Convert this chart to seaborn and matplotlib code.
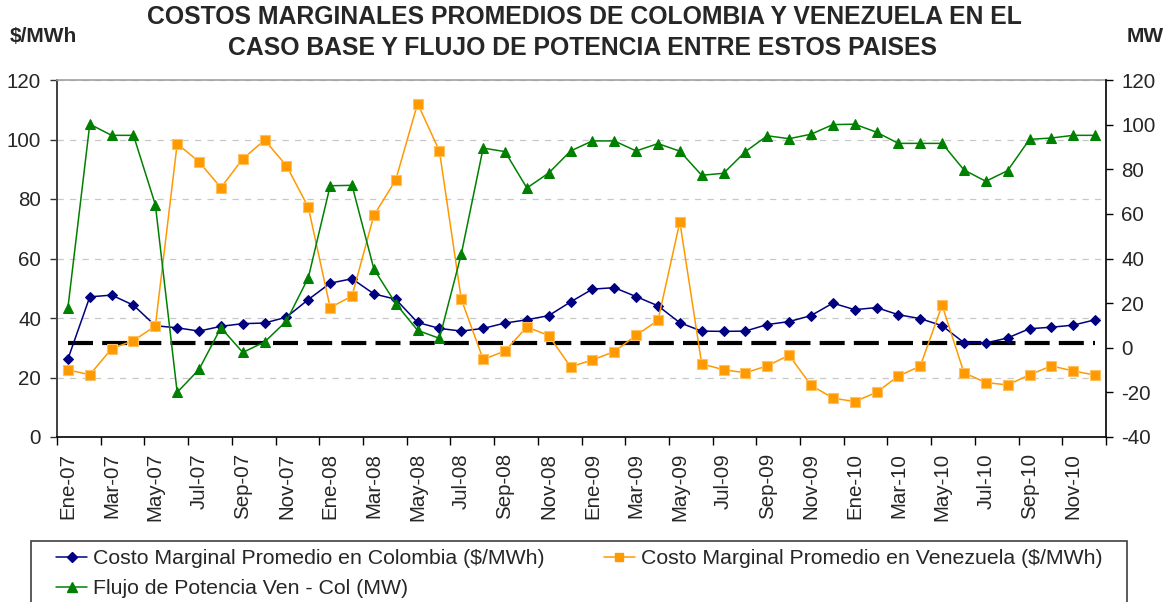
import matplotlib
matplotlib.use("Agg")
import matplotlib.pyplot as plt
import numpy as np
import pandas as pd
import seaborn as sns
from matplotlib.patches import Rectangle
from matplotlib.lines import Line2D

# ---- data -------------------------------------------------------------
meses_abrev = ["Ene", "Feb", "Mar", "Abr", "May", "Jun",
               "Jul", "Ago", "Sep", "Oct", "Nov", "Dic"]
anios = ["07", "08", "09", "10"]
meses = [f"{m}-{a}" for a in anios for m in meses_abrev]

# Costo marginal promedio en Colombia ($/MWh)
colombia = [26.2, 47.1, 47.7, 44.3, 37.4, 36.7, 35.6, 37.2, 38.1, 38.3, 40.3, 46.2,
            51.7, 53.2, 48.1, 46.3, 38.5, 36.5, 35.6, 36.5, 38.3, 39.4, 40.8, 45.4,
            49.7, 50.2, 47.2, 44.1, 38.4, 35.6, 35.5, 35.6, 37.8, 38.8, 40.8, 45.0,
            42.8, 43.5, 41.1, 39.8, 37.4, 31.7, 31.6, 33.3, 36.4, 36.9, 37.6, 39.4]

# Costo marginal promedio en Venezuela ($/MWh)
venezuela = [22.6, 20.9, 29.7, 32.4, 37.3, 98.6, 92.5, 83.8, 93.5, 99.8, 91.2, 77.2,
             43.5, 47.4, 74.5, 86.4, 112.1, 96.1, 46.3, 26.1, 28.9, 37.0, 34.1, 23.6,
             25.9, 28.7, 34.2, 39.2, 72.3, 24.6, 22.6, 21.6, 23.9, 27.5, 17.4, 13.1,
             11.9, 15.0, 20.5, 23.8, 44.3, 21.6, 18.3, 17.5, 20.9, 23.9, 22.2, 20.8]

# Flujo de potencia Venezuela -> Colombia (MW)
flujo = [18.0, 100.2, 95.2, 95.2, 64.1, -20.0, -9.7, 9.0, -2.1, 2.6, 12.0, 31.4,
         72.6, 72.8, 35.3, 19.8, 7.8, 4.2, 42.0, 89.5, 87.9, 71.6, 78.3, 88.2,
         92.7, 92.7, 88.2, 91.5, 88.1, 77.3, 78.2, 87.9, 95.0, 93.7, 95.7, 100.0,
         100.2, 96.6, 91.6, 91.6, 91.6, 79.7, 74.6, 79.4, 93.4, 94.0, 95.2, 95.2]

# Costo marginal de referencia del caso base ($/MWh)
referencia = 31.7

etiquetas = ["Costo Marginal Promedio en Colombia ($/MWh)",
             "Costo Marginal Promedio en Venezuela ($/MWh)",
             "Flujo de Potencia Ven - Col (MW)"]

df = pd.DataFrame({"mes": np.arange(len(meses)),
                   "colombia": colombia,
                   "venezuela": venezuela,
                   "flujo": flujo,
                   "referencia": [referencia] * len(meses)})

# ---- style ------------------------------------------------------------
sns.set_style("white")
plt.rcParams["font.family"] = ["Liberation Sans", "DejaVu Sans"]
plt.rcParams["axes.unicode_minus"] = False

W, H = 1171, 602
fig = plt.figure(figsize=(W / 100, H / 100), dpi=100)
fig.patch.set_facecolor("white")

x0, x1, yt, yb = 57, 1106, 80, 437
ax = fig.add_axes([x0 / W, (H - yb) / H, (x1 - x0) / W, (yb - yt) / H])
ax2 = ax.twinx()

c_col = "#000080"
c_ven = "#FF9900"
c_flu = "#008000"

sns.lineplot(data=df, x="mes", y="referencia", ax=ax, color="black",
             linewidth=3.0, linestyle=(0, (6, 2.2)), zorder=3)
sns.lineplot(data=df, x="mes", y="colombia", ax=ax, color=c_col, linewidth=1.1,
             marker="D", markersize=5.5, markeredgecolor=c_col, zorder=4)
sns.lineplot(data=df, x="mes", y="venezuela", ax=ax, color=c_ven, linewidth=1.1,
             marker="s", markersize=7, markeredgecolor="#FFC060",
             markeredgewidth=0.8, zorder=4)
sns.lineplot(data=df, x="mes", y="flujo", ax=ax2, color=c_flu, linewidth=1.1,
             marker="^", markersize=7.5, markeredgecolor=c_flu, zorder=4)

# axes ranges and ticks
ax.set_xlim(-0.5, len(meses) - 0.5)
ax.set_ylim(0, 120)
ax2.set_ylim(-40, 120)
ax.set_yticks(np.arange(0, 121, 20))
ax2.set_yticks(np.arange(-40, 121, 20))

ax.set_xticks(np.arange(-0.5, len(meses), 2))
ax.set_xticklabels([])
ax.set_xticks(np.arange(0, len(meses), 2), minor=True)
ax.set_xticklabels(meses[::2], minor=True, rotation=90)

ax.tick_params(axis="x", which="major", direction="out", length=6, width=1,
               color="black", bottom=True)
ax.tick_params(axis="x", which="minor", length=0, pad=11.5, labelsize=14.8,
               bottom=True)
ax.tick_params(axis="y", direction="out", length=5, width=1, color="#333333",
               labelsize=14.8, pad=6.5, left=True)
ax2.tick_params(axis="y", direction="out", length=5, width=1, color="black",
                labelsize=14.8, pad=6, right=True)

ax.set_xlabel("")
ax.set_ylabel("")
ax2.set_ylabel("")

# light dashed grid
ax.yaxis.grid(True, linestyle=(0, (5, 5)), color="#c8c8c8", linewidth=0.9)
ax.set_axisbelow(True)

ax.spines["left"].set_color("#404040")
ax.spines["left"].set_linewidth(1.4)
ax.spines["bottom"].set_color("black")
ax.spines["bottom"].set_linewidth(1.2)
ax.spines["top"].set_color("#a0a0a0")
ax.spines["top"].set_linewidth(1.2)
ax.spines["right"].set_visible(False)
for s in ["top", "left", "bottom"]:
    ax2.spines[s].set_visible(False)
ax2.spines["right"].set_color("black")
ax2.spines["right"].set_linewidth(1.2)

# titles and unit labels
fig.text(584 / W, 1 - 17 / H,
         "COSTOS MARGINALES PROMEDIOS DE COLOMBIA Y VENEZUELA EN EL",
         ha="center", va="center", fontsize=17.8, fontweight="bold")
fig.text(583 / W, 1 - 48 / H,
         "CASO BASE Y FLUJO DE POTENCIA ENTRE ESTOS PAISES",
         ha="center", va="center", fontsize=17.8, fontweight="bold")
fig.text(10 / W, 1 - 37 / H, "$/MWh", ha="left", va="center",
         fontsize=15, fontweight="bold")
fig.text(1127 / W, 1 - 37 / H, "MW", ha="left", va="center",
         fontsize=15, fontweight="bold")

# legend
handles = [
    Line2D([], [], color=c_col, lw=1.1, marker="D", markersize=5,
           markeredgecolor=c_col),
    Line2D([], [], color=c_flu, lw=1.1, marker="^", markersize=6.5,
           markeredgecolor=c_flu),
    Line2D([], [], color=c_ven, lw=1.1, marker="s", markersize=6,
           markeredgecolor=c_ven),
]
labs = [etiquetas[0], etiquetas[2], etiquetas[1]]
fig.legend(handles, labs, loc="upper left", ncol=2,
           bbox_to_anchor=(56 / W, 1 - 549 / H), frameon=False,
           fontsize=15.3, handlelength=1.46, handletextpad=0.28,
           columnspacing=2.78, labelspacing=0.53, borderpad=0,
           borderaxespad=0)
fig.patches.append(Rectangle((31 / W, -0.05), (1127 - 31) / W,
                             (1 - 541 / H) + 0.05, transform=fig.transFigure,
                             fill=False, edgecolor="#404040", linewidth=1.2))

fig.savefig("out.png", dpi=100, facecolor="white")
